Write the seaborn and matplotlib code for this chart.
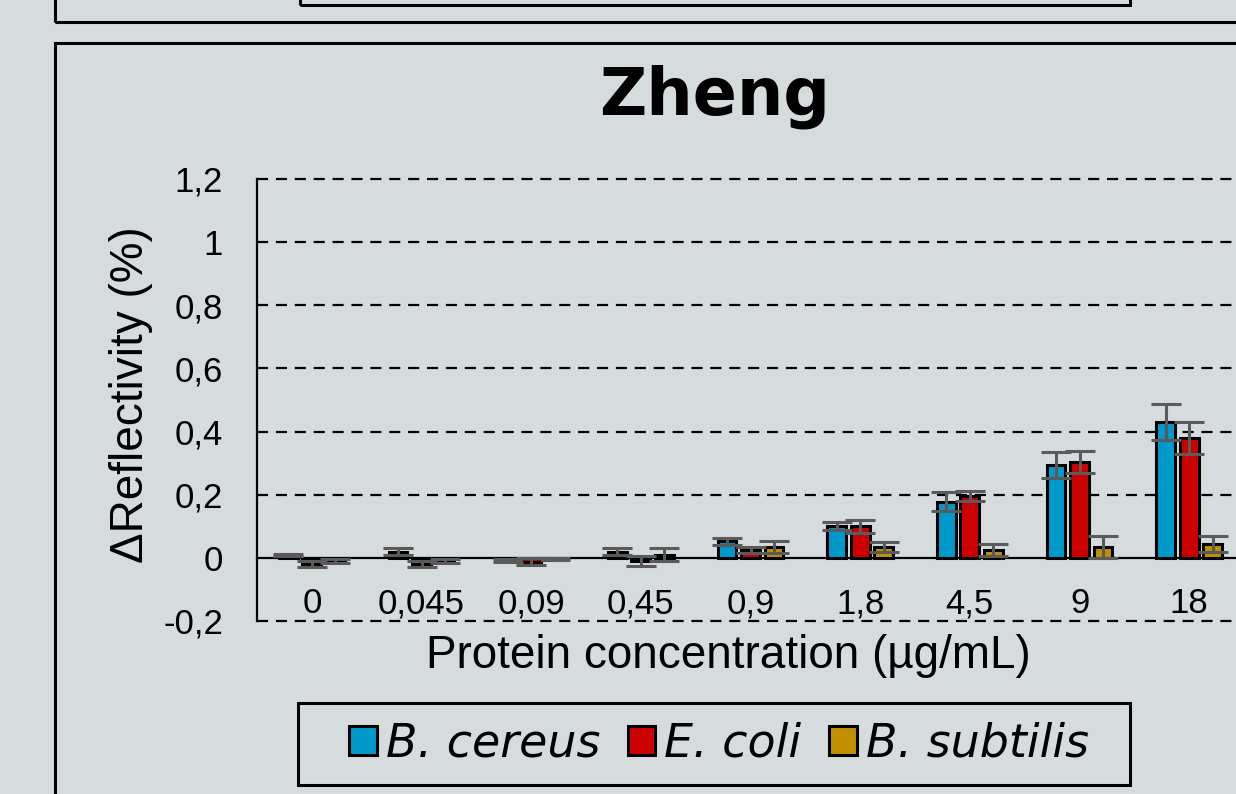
import pandas as pd
import matplotlib.pyplot as plt
import seaborn as sns
from matplotlib.patches import Rectangle

# Data
concentrations = ['0', '0,045', '0,09', '0,45', '0,9', '1,8', '4,5', '9', '18']
species = ['B. cereus', 'E. coli', 'B. subtilis']
cereus = [0.008, 0.02, -0.008, 0.02, 0.052, 0.10, 0.178, 0.294, 0.43]
coli = [-0.02, -0.02, -0.012, -0.01, 0.024, 0.10, 0.197, 0.305, 0.38]
subtilis = [-0.01, -0.01, -0.005, 0.01, 0.034, 0.034, 0.024, 0.034, 0.043]
cereus_err = [0.003, 0.01, 0.005, 0.01, 0.01, 0.012, 0.03, 0.04, 0.058]
coli_err = [0.01, 0.01, 0.01, 0.015, 0.01, 0.02, 0.016, 0.035, 0.05]
subtilis_err = [0.005, 0.005, 0.003, 0.02, 0.02, 0.017, 0.019, 0.035, 0.025]
yticks = [-0.2, 0, 0.2, 0.4, 0.6, 0.8, 1, 1.2]
ytick_labels = ['-0,2', '0', '0,2', '0,4', '0,6', '0,8', '1', '1,2']

colors = {'B. cereus': '#0099CC', 'E. coli': '#CC0000', 'B. subtilis': '#C09000'}
bg = '#D6DCDE'

df = pd.DataFrame({
    'conc': concentrations * 3,
    'species': [s for s in species for _ in concentrations],
    'value': cereus + coli + subtilis,
})
errs = [cereus_err, coli_err, subtilis_err]

sns.set_style('white')
plt.rcParams['font.family'] = ['Liberation Sans', 'DejaVu Sans']
plt.rcParams.update({'text.color': 'black', 'axes.labelcolor': 'black',
                     'xtick.color': 'black', 'ytick.color': 'black'})

fig = plt.figure(figsize=(12.36, 7.94), dpi=100, facecolor=bg)
ax = fig.add_axes([257 / 1236, 1 - 621 / 794, 987 / 1236, 442 / 794])
ax.set_facecolor(bg)

sns.barplot(data=df, x='conc', y='value', hue='species', order=concentrations,
            hue_order=species, palette=colors, saturation=1, width=0.64, gap=0.2,
            edgecolor='black', linewidth=2.2, errorbar=None, legend=False,
            ax=ax, zorder=3)

# error bars at the bar ends
for cont, err in zip(ax.containers, errs):
    for bar, e in zip(cont, err):
        xc = bar.get_x() + bar.get_width() / 2
        yv = bar.get_y() + bar.get_height()
        ax.errorbar(xc, yv, yerr=e, color='#5A5A5A', elinewidth=2.2,
                    capsize=11, capthick=2.2, zorder=4)

for side in ['top', 'right']:
    ax.spines[side].set_visible(False)
ax.spines['bottom'].set_position(('data', 0))
for side in ['bottom', 'left']:
    ax.spines[side].set_linewidth(1.6)
    ax.spines[side].set_color('black')

ax.set_ylim(-0.2, 1.2)
ax.set_xlim(-0.5, 8.5)
ax.set_yticks(yticks)
ax.set_yticklabels(ytick_labels, fontsize=25)
ax.set_xticks(range(len(concentrations)))
ax.set_xticklabels(concentrations, fontsize=25)
ax.set_xticks([i + 0.5 for i in range(len(concentrations) - 1)], minor=True)
ax.tick_params(axis='x', which='major', length=0, pad=21)
ax.tick_params(axis='x', which='minor', length=8, width=1.6, direction='out', color='black')
ax.tick_params(axis='y', length=9.4, width=1.6, direction='out', color='black', pad=15)

for y in yticks:
    if y != 0:
        ax.axhline(y, color='black', lw=1.6, ls=(0, (5, 3.5)), zorder=1, clip_on=False)

ax.set_xlabel('Protein concentration (µg/mL)', fontsize=33)
ax.xaxis.set_label_coords((728 - 257) / 987, -0.03)
ax.set_ylabel('ΔReflectivity (%)', fontsize=33)
ax.yaxis.set_label_coords(-104 / 987, 0.5 + 5 / 442)

fig.text(715 / 1236, 1 - 97 / 794, 'Zheng', fontsize=47, fontweight='bold',
         family='DejaVu Sans', ha='center', va='center')

leg = fig.legend(ax.containers, species, loc='center', bbox_to_anchor=(719 / 1236, 1 - 744 / 794),
                 ncol=3, frameon=False,
                 prop={'family': 'DejaVu Sans', 'style': 'italic', 'size': 33},
                 handlelength=0.6, handleheight=0.6, handletextpad=0.2,
                 columnspacing=0.6, borderpad=0.2)

# legend box and panel frames (previous panel is cut at the top of the picture)
fig.add_artist(Rectangle((298 / 1236, 1 - 785 / 794), 832 / 1236, 82 / 794, transform=fig.transFigure,
                         fill=False, lw=2.2, ec='black'))
fig.add_artist(Rectangle((55 / 1236, 1 - 22 / 794), 1.2, 0.2, transform=fig.transFigure,
                         fill=False, lw=2.2, ec='black'))
fig.add_artist(Rectangle((300 / 1236, 1 - 5 / 794), 830 / 1236, 0.2, transform=fig.transFigure,
                         fill=False, lw=2.2, ec='black'))
fig.add_artist(Rectangle((55 / 1236, -0.2), 1.2, 0.2 + (794 - 43) / 794, transform=fig.transFigure,
                         fill=False, lw=2.2, ec='black'))

fig.savefig('out.png', dpi=100, facecolor=bg)
